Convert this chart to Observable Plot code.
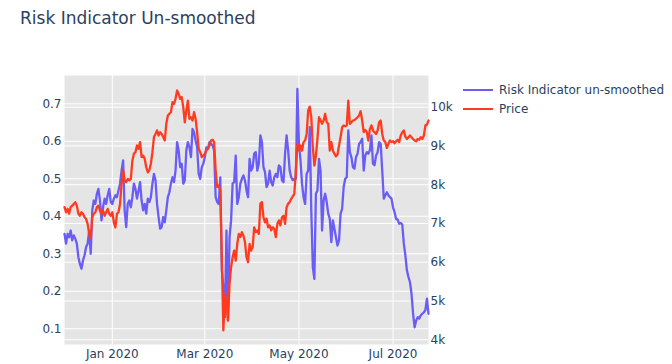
<!DOCTYPE html>
<html><head><meta charset="utf-8">
<script src="https://cdn.jsdelivr.net/npm/d3@7"></script>
<script src="https://cdn.jsdelivr.net/npm/@observablehq/plot@0.6"></script>
<style>
body{margin:0;background:#fff;font-family:"DejaVu Sans",sans-serif;}
#wrap{position:relative;width:672px;height:364px;overflow:hidden;}
#chart{position:absolute;left:0;top:0;}
#title{position:absolute;left:20px;top:8px;font-size:17px;line-height:20px;color:#2a3f5f;white-space:nowrap;}
.leg{position:absolute;left:463px;height:16px;font-size:12px;line-height:16px;color:#2a3f5f;display:flex;align-items:center;white-space:nowrap;}
.leg svg{margin-right:6px;}
</style></head>
<body>
<div id="wrap"><div id="chart"></div><div id="title">Risk Indicator Un-smoothed</div><div id="legend"></div></div>
<script>
const days = [
"2019-12-01","2019-12-02","2019-12-03","2019-12-04","2019-12-05","2019-12-06","2019-12-07","2019-12-08","2019-12-09","2019-12-10","2019-12-11","2019-12-12","2019-12-13","2019-12-14","2019-12-15","2019-12-16","2019-12-17","2019-12-18","2019-12-19","2019-12-20","2019-12-21","2019-12-22","2019-12-23","2019-12-24","2019-12-25","2019-12-26","2019-12-27","2019-12-28","2019-12-29","2019-12-30","2019-12-31",
"2020-01-01","2020-01-02","2020-01-03","2020-01-04","2020-01-05","2020-01-06","2020-01-07","2020-01-08","2020-01-09","2020-01-10","2020-01-11","2020-01-12","2020-01-13","2020-01-14","2020-01-15","2020-01-16","2020-01-17","2020-01-18","2020-01-19","2020-01-20","2020-01-21","2020-01-22","2020-01-23","2020-01-24","2020-01-25","2020-01-26","2020-01-27","2020-01-28","2020-01-29","2020-01-30","2020-01-31",
"2020-02-01","2020-02-02","2020-02-03","2020-02-04","2020-02-05","2020-02-06","2020-02-07","2020-02-08","2020-02-09","2020-02-10","2020-02-11","2020-02-12","2020-02-13","2020-02-14","2020-02-15","2020-02-16","2020-02-17","2020-02-18","2020-02-19","2020-02-20","2020-02-21","2020-02-22","2020-02-23","2020-02-24","2020-02-25","2020-02-26","2020-02-27","2020-02-28","2020-02-29",
"2020-03-01","2020-03-02","2020-03-03","2020-03-04","2020-03-05","2020-03-06","2020-03-07","2020-03-08","2020-03-09","2020-03-10","2020-03-11","2020-03-12","2020-03-13","2020-03-14","2020-03-15","2020-03-16","2020-03-17","2020-03-18","2020-03-19","2020-03-20","2020-03-21","2020-03-22","2020-03-23","2020-03-24","2020-03-25","2020-03-26","2020-03-27","2020-03-28","2020-03-29","2020-03-30","2020-03-31",
"2020-04-01","2020-04-02","2020-04-03","2020-04-04","2020-04-05","2020-04-06","2020-04-07","2020-04-08","2020-04-09","2020-04-10","2020-04-11","2020-04-12","2020-04-13","2020-04-14","2020-04-15","2020-04-16","2020-04-17","2020-04-18","2020-04-19","2020-04-20","2020-04-21","2020-04-22","2020-04-23","2020-04-24","2020-04-25","2020-04-26","2020-04-27","2020-04-28","2020-04-29","2020-04-30",
"2020-05-01","2020-05-02","2020-05-03","2020-05-04","2020-05-05","2020-05-06","2020-05-07","2020-05-08","2020-05-09","2020-05-10","2020-05-11","2020-05-12","2020-05-13","2020-05-14","2020-05-15","2020-05-16","2020-05-17","2020-05-18","2020-05-19","2020-05-20","2020-05-21","2020-05-22","2020-05-23","2020-05-24","2020-05-25","2020-05-26","2020-05-27","2020-05-28","2020-05-29","2020-05-30","2020-05-31",
"2020-06-01","2020-06-02","2020-06-03","2020-06-04","2020-06-05","2020-06-06","2020-06-07","2020-06-08","2020-06-09","2020-06-10","2020-06-11","2020-06-12","2020-06-13","2020-06-14","2020-06-15","2020-06-16","2020-06-17","2020-06-18","2020-06-19","2020-06-20","2020-06-21","2020-06-22","2020-06-23","2020-06-24","2020-06-25","2020-06-26","2020-06-27","2020-06-28","2020-06-29","2020-06-30",
"2020-07-01","2020-07-02","2020-07-03","2020-07-04","2020-07-05","2020-07-06","2020-07-07","2020-07-08","2020-07-09","2020-07-10","2020-07-11","2020-07-12","2020-07-13","2020-07-14","2020-07-15","2020-07-16","2020-07-17","2020-07-18","2020-07-19","2020-07-20","2020-07-21","2020-07-22","2020-07-23","2020-07-24"
];
const risk = [
0.353,0.327,0.353,0.344,0.362,0.336,0.349,0.340,0.327,0.291,0.273,0.260,0.282,0.296,0.318,0.327,0.362,0.300,0.416,0.442,0.433,0.460,0.473,0.442,0.389,0.424,0.447,0.433,0.456,0.473,0.438,
0.433,0.447,0.456,0.451,0.469,0.487,0.522,0.549,0.416,0.371,0.433,0.442,0.424,0.451,0.487,0.473,0.447,0.469,0.491,0.442,0.416,0.433,0.407,0.447,0.438,0.451,0.487,0.513,0.496,0.433,0.398,
0.367,0.371,0.398,0.384,0.416,0.451,0.464,0.487,0.504,0.491,0.522,0.598,0.576,0.531,0.540,0.487,0.496,0.576,0.598,0.584,0.558,0.633,0.624,0.602,0.584,0.513,0.500,0.531,0.540,
0.558,0.584,0.580,0.598,0.593,0.589,0.576,0.451,0.438,0.433,0.504,0.256,0.211,0.131,0.362,0.122,0.344,0.389,0.487,0.491,0.562,0.433,0.451,0.487,0.500,0.509,0.496,0.469,0.451,0.553,0.522,
0.531,0.567,0.571,0.522,0.540,0.616,0.598,0.531,0.518,0.478,0.487,0.522,0.491,0.482,0.504,0.513,0.504,0.536,0.531,0.496,0.491,0.567,0.616,0.576,0.522,0.504,0.496,0.500,0.500,0.740,
0.593,0.549,0.487,0.451,0.433,0.513,0.522,0.638,0.416,0.264,0.233,0.460,0.469,0.553,0.522,0.362,0.442,0.460,0.438,0.407,0.393,0.331,0.389,0.367,0.344,0.322,0.336,0.407,0.420,0.478,0.500,
0.504,0.629,0.571,0.558,0.531,0.527,0.558,0.567,0.593,0.598,0.607,0.522,0.562,0.571,0.567,0.576,0.616,0.540,0.536,0.562,0.571,0.598,0.593,0.522,0.447,0.456,0.464,0.456,0.451,0.447,
0.424,0.411,0.393,0.391,0.380,0.382,0.378,0.327,0.296,0.256,0.238,0.224,0.193,0.140,0.104,0.122,0.131,0.127,0.136,0.140,0.144,0.150,0.180,0.140
];
const price = [
7420,7290,7375,7250,7420,7460,7500,7550,7460,7250,7200,7290,7250,7160,7120,6990,6730,6600,7160,7250,7290,7420,7460,7330,7250,7330,7200,7290,7375,7250,7200,
7290,7030,6900,7250,7290,7500,8020,8370,8110,8065,8150,8110,8150,8620,8800,8840,9010,8925,9100,8710,8750,8670,8450,8320,8370,8540,8840,9230,9310,9400,9270,
9355,9310,9230,9140,9570,9785,9830,9870,10130,10085,10215,10430,10345,10215,10260,10000,9610,9915,10170,9700,9740,9655,9870,9700,9355,8925,8840,8710,8750,
8800,8880,8925,9010,9140,9160,9100,8370,7940,7980,7850,6130,4240,5180,4930,4500,5440,5870,6130,6300,6040,6470,6730,6650,6775,6690,6520,6130,6000,6470,6300,
6390,6900,6775,6820,6730,7510,7550,7160,7030,7120,6900,6950,6820,6900,6860,6650,6990,7080,6950,7160,7200,6990,7420,7510,7550,7635,7700,7760,8370,9055,
8880,9010,8880,9100,9140,9310,9915,10015,9740,8970,8495,8750,9180,9740,9655,9570,9655,9830,9610,9570,8880,9100,8880,8795,8730,8780,9010,9230,9480,9530,9505,
9530,10170,9570,9610,9655,9670,9700,9740,9785,9895,9655,9355,9415,9355,9140,9440,9530,9400,9355,9310,9400,9610,9655,9310,9140,9100,8950,9055,9140,9100,
9120,9070,9120,9160,9100,9270,9355,9400,9240,9180,9225,9270,9225,9180,9140,9120,9180,9160,9225,9180,9270,9530,9550,9655
];
const riskTicks = [0.1,0.2,0.3,0.4,0.5,0.6,0.7];
const priceTicks = [4000,5000,6000,7000,8000,9000,10000];
const priceLabels = ["4k","5k","6k","7k","8k","9k","10k"];
const xTicks = ["2020-01-01","2020-03-01","2020-05-01","2020-07-01"];
const seriesNames = ["Risk Indicator un-smoothed","Price"];
const seriesColors = ["#6a5df5","#ff3b1f"];

// secondary (price) axis expressed in the primary axis units
const priceBase = 0.0707, pricePerUnit = 0.00010339;
const toY = p => priceBase + (p - 4000) * pricePerUnit;
const labelAt = new Map(priceTicks.map((p,i)=>[toY(p), priceLabels[i]]));

const rows = days.map((d,i)=>({date:new Date(d), risk:risk[i], price:price[i]}));
const xt = xTicks.map(d=>new Date(d));

const chart = Plot.plot({
  width:672, height:364,
  marginLeft:64, marginRight:244, marginTop:75, marginBottom:20,
  style:{fontFamily:"'DejaVu Sans', sans-serif", fontSize:"12px", color:"#2a3f5f", background:"transparent"},
  x:{type:"utc", domain:[rows[0].date, rows[rows.length-1].date]},
  y:{domain:[0.058,0.7755]},
  marks:[
    Plot.frame({fill:"#e5e5e5", stroke:"none"}),
    Plot.gridY(riskTicks, {stroke:"#ffffff", strokeOpacity:1, strokeWidth:1}),
    Plot.gridY(priceTicks.map(toY), {stroke:"#ffffff", strokeOpacity:1, strokeWidth:1}),
    Plot.gridX(xt, {stroke:"#ffffff", strokeOpacity:1, strokeWidth:1}),
    Plot.axisY(riskTicks, {anchor:"left", tickSize:0, tickPadding:3, tickFormat:d3.format(".1f"), label:null, fill:"#2a3f5f"}),
    Plot.axisY(priceTicks.map(toY), {anchor:"right", tickSize:0, tickPadding:2, tickFormat:v=>labelAt.get(v), label:null, fill:"#2a3f5f"}),
    Plot.axisX(xt, {tickSize:0, tickPadding:5, tickFormat:d3.utcFormat("%b %Y"), label:null, fill:"#2a3f5f"}),
    Plot.lineY(rows, {x:"date", y:"risk", stroke:seriesColors[0], strokeWidth:2.3}),
    Plot.lineY(rows, {x:"date", y:d=>toY(d.price), stroke:seriesColors[1], strokeWidth:2.3})
  ]
});
document.getElementById("chart").appendChild(chart);

const legend = document.getElementById("legend");
seriesNames.forEach((name,i)=>{
  const item = document.createElement("div");
  item.className = "leg";
  item.style.top = (82 + i*19) + "px";
  item.innerHTML = `<svg width="30" height="4"><line x1="0" x2="30" y1="2" y2="2" stroke="${seriesColors[i]}" stroke-width="2"/></svg><span>${name}</span>`;
  legend.appendChild(item);
});
</script>
</body></html>
